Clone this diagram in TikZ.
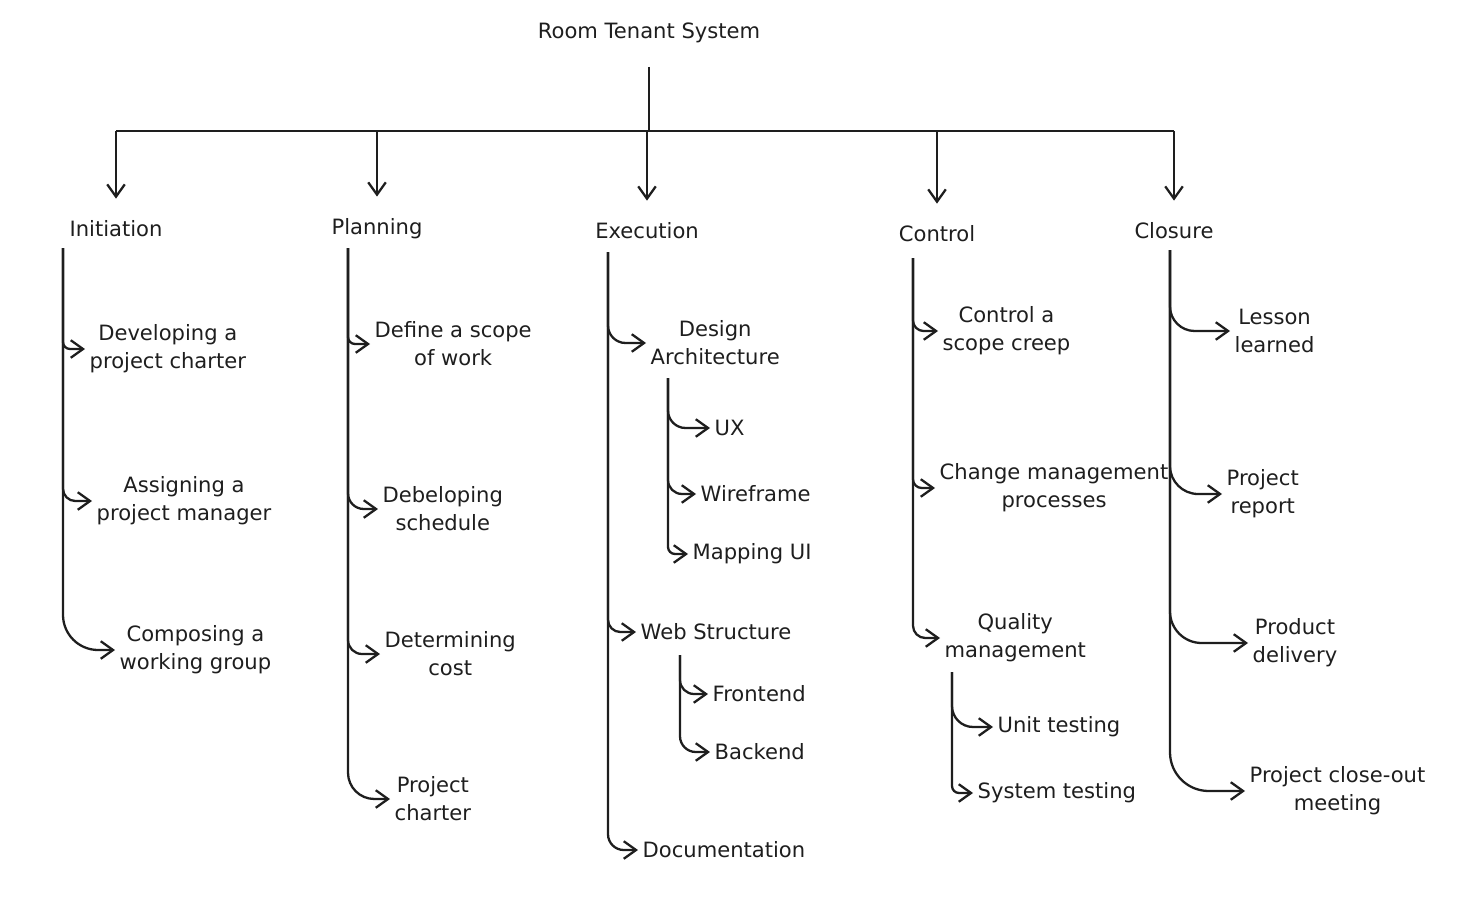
\documentclass[tikz,border=0pt]{standalone}
\usepackage{fontspec}
\setmainfont{DejaVu Sans}
\usepackage{xcolor}
\usetikzlibrary{arrows.meta}

\definecolor{ink}{HTML}{1E1E1E}

\begin{document}
\begin{tikzpicture}[
        > = {Straight Barb[length=7pt,width=10pt]}, % open arrow head
        x = 0.02cm, y = -0.02cm, % one unit per pixel
        line width = 1.3pt,
        draw = ink,
        every node/.style = {text=ink, font=\fontsize{12}{16}\selectfont, align=center, inner sep=2pt},
        phase/.style = {->, shorten >=10pt},
        branch/.style = {->, rounded corners=#1},
    ]
        \useasboundingbox (0,0) rectangle (1474,909);

        % Draw the top levels
        \node (title) at (649,33) {Room Tenant System};
        \foreach \pos/\i/\txt in {
            (116,229)/ini/Initiation,
            (377,229)/pla/Planning,
            (647,231)/exe/Execution,
            (937,234)/con/Control,
            (1174,231)/clo/Closure} {
            \node (\i) at \pos {\txt};
        }

        % Draw the work packages
        \foreach \pos/\i/\txt in {
            (85,349)/ini1/{Developing a\\project charter},
            (92,501)/ini2/{Assigning a\\project manager},
            (115,650)/ini3/{Composing a\\working group},
            (370,344)/pla1/{Define a scope\\of work},
            (378,509)/pla2/{Debeloping\\schedule},
            (380,654)/pla3/{Determining\\cost},
            (390,799)/pla4/{Project\\charter},
            (646,343)/exe1/{Design\\Architecture},
            (710,428)/exe1a/UX,
            (696,494)/exe1b/Wireframe,
            (688,554)/exe1c/Mapping UI,
            (636,632)/exe2/Web Structure,
            (708,694)/exe2a/Frontend,
            (710,752)/exe2b/Backend,
            (638,850)/exe3/Documentation,
            (938,331)/con1/{Control a\\scope creep},
            (935,488)/con2/{Change management\\processes},
            (940,638)/con3/{Quality\\management},
            (993,727)/con3a/Unit testing,
            (973,793)/con3b/System testing,
            (1230,331)/clo1/{Lesson\\learned},
            (1222,494)/clo2/{Project\\report},
            (1248,643)/clo3/{Product\\delivery},
            (1245,791)/clo4/{Project close-out\\meeting}} {
            \node[anchor=west] (\i) at \pos {\txt};
        }

        % Branch points
        \coordinate (bar) at (649,131);
        \coordinate (iniT) at (63,248);
        \coordinate (plaT) at (348,248);
        \coordinate (exeT) at (608,252);
        \coordinate (desT) at (668,378);
        \coordinate (webT) at (680,655);
        \coordinate (conT) at (913,258);
        \coordinate (quaT) at (952,672);
        \coordinate (cloT) at (1170,250);

        % Draw the top edges
        \draw[shorten <=11pt] (title) -- (bar);
        \draw (ini |- bar) -- (clo |- bar);
        \foreach \e in {ini, pla, exe, con, clo} {
            \draw[phase] (\e |- bar) -- (\e);
        }

        % Draw the branches
        \foreach \b/\e/\r in {
            iniT/ini1/4pt,
            iniT/ini2/7pt,
            iniT/ini3/20pt,
            plaT/pla1/4pt,
            plaT/pla2/9pt,
            plaT/pla3/8pt,
            plaT/pla4/15pt,
            exeT/exe1/10pt,
            exeT/exe2/7pt,
            exeT/exe3/9pt,
            desT/exe1a/10pt,
            desT/exe1b/8pt,
            desT/exe1c/4pt,
            webT/exe2a/8pt,
            webT/exe2b/9pt,
            conT/con1/6pt,
            conT/con2/5pt,
            conT/con3/7pt,
            quaT/con3a/12pt,
            quaT/con3b/4pt,
            cloT/clo1/14pt,
            cloT/clo2/16pt,
            cloT/clo3/18pt,
            cloT/clo4/22pt} {
            \draw[branch=\r] (\b) |- (\e.west);
        }
    \end{tikzpicture}
\end{document}
